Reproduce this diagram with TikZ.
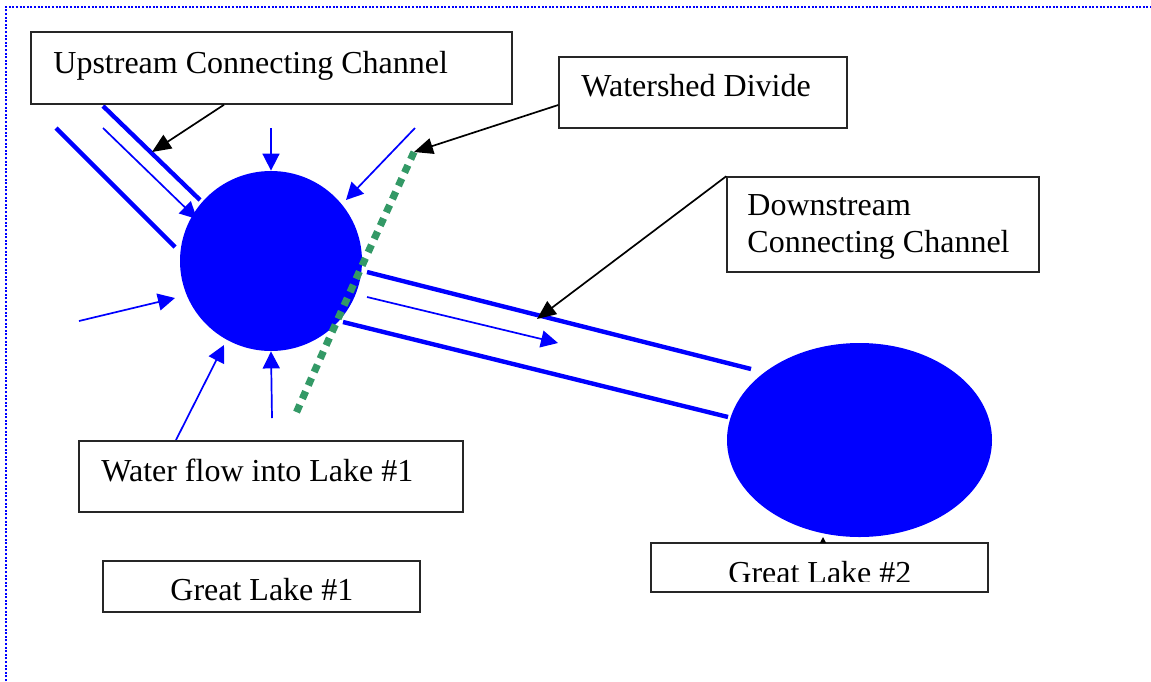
\documentclass[tikz,border=0pt]{standalone}
\usepackage{fontspec}
\setmainfont{Liberation Serif}
\usetikzlibrary{shapes.geometric,arrows.meta,fit}
\definecolor{divgreen}{HTML}{339966}
\begin{document}
\begin{tikzpicture}[x=0.5pt,y=-0.5pt,
  box/.style={draw=black!85, line width=0.75pt, inner sep=0pt, fill=white},
  lbl/.style={anchor=base west, inner sep=0pt, font=\fontsize{16}{19}\selectfont},
  lake/.style={ellipse, fill=blue, draw=none, inner sep=0pt},
  flow/.style={blue, line width=0.85pt, -{Triangle[length=8.5pt,width=8.5pt]}},
  chan/.style={blue, line width=2.2pt},
  callout/.style={black, line width=0.85pt, -{Triangle[length=9.5pt,width=8pt]}},
  tinycallout/.style={black, line width=0.6pt, -{Triangle[length=3pt,width=3pt]}},
  divide/.style={draw=divgreen, line width=3.6pt, dash pattern=on 4pt off 3.3pt},
  frame/.style={blue, line width=1.1pt, dash pattern=on 1pt off 0.8pt}]
\useasboundingbox (0,0) rectangle (1151,681);
% frame
\draw[frame] (6,681) -- (6,7) -- (1151,7);
% lakes
\node[lake, minimum width=91pt, minimum height=90pt] (l1) at (271,261) {};
\node[lake, minimum width=132.5pt, minimum height=97pt] (l2) at (859.5,440) {};
% upstream channel
\coordinate (uc1a) at (103,106); \coordinate (uc1b) at (200,200);
\coordinate (uc2a) at (56,128);  \coordinate (uc2b) at (175,247);
\draw[chan] (uc1a) -- (uc1b);
\draw[chan] (uc2a) -- (uc2b);
% downstream channel
\coordinate (dc1a) at (367,272); \coordinate (dc1b) at (751,369);
\coordinate (dc2a) at (343,322); \coordinate (dc2b) at (728,417);
\draw[chan] (dc1a) -- (dc1b);
\draw[chan] (dc2a) -- (dc2b);
% flows into lake 1
\coordinate (f1s) at (103,128); \coordinate (f1t) at (197,219);
\coordinate (f2s) at (271,128);
\coordinate (f3s) at (415,128); \coordinate (f3t) at (346,200);
\coordinate (f4s) at (79,321);  \coordinate (f4t) at (175,298);
\coordinate (f5s) at (176,440); \coordinate (f5t) at (224,345);
\coordinate (f6s) at (272,418);
\draw[flow] (f1s) -- (f1t);
\draw[flow] (f2s) -- (l1.north);
\draw[flow] (f3s) -- (f3t);
\draw[flow] (f4s) -- (f4t);
\draw[flow] (f5s) -- (f5t);
\draw[flow] (f6s) -- (l1.south);
% flow out
\coordinate (f7s) at (367,297); \coordinate (f7t) at (558,343);
\draw[flow] (f7s) -- (f7t);
% watershed divide
\coordinate (wdA) at (414,152); \coordinate (wdB) at (294,418);
\draw[divide] (wdA) .. controls (386,213) and (330,335) .. (wdB);
% boxes
\node[box, fit={(31,32) (512,104)}] (up) {};
\node[lbl] (upT) at (53,73) {Upstream Connecting Channel};
\node[box, fit={(559,57) (847,128)}] (ws) {};
\node[lbl] (wsT) at (581,96) {Watershed Divide};
\node[box, fit={(727,177) (1039,272)}] (dn) {};
\node[lbl] (dnT1) at (747,215) {Downstream};
\node[lbl] (dnT2) at (747,252) {Connecting Channel};
\node[box, fit={(79,441) (463,512)}] (wf) {};
\node[lbl] (wfT) at (101,481) {Water flow into Lake \#1};
\node[box, fit={(103,561) (420,612)}] (gl1) {};
\node[lbl] (gl1T) at (170,600) {Great Lake \#1};
\node[box, fit={(651,543) (988,592)}] (gl2) {};
\begin{scope}
\clip (651,543) rectangle (988,581);
\node[lbl] (gl2T) at (728,583) {Great Lake \#2};
\end{scope}
% callouts
\coordinate (upTip) at (152,152);
\draw[callout] (224,0 |- up.south) -- (upTip);
\draw[callout] (ws.west |- 0,105) -- (wdA);
\coordinate (dnTip) at (537,319);
\draw[callout] (dn.north west) -- (dnTip);
\coordinate (gl2Tip) at (823,537);
\draw[tinycallout] (823,0 |- gl2.north) -- (gl2Tip);
\end{tikzpicture}
\end{document}
